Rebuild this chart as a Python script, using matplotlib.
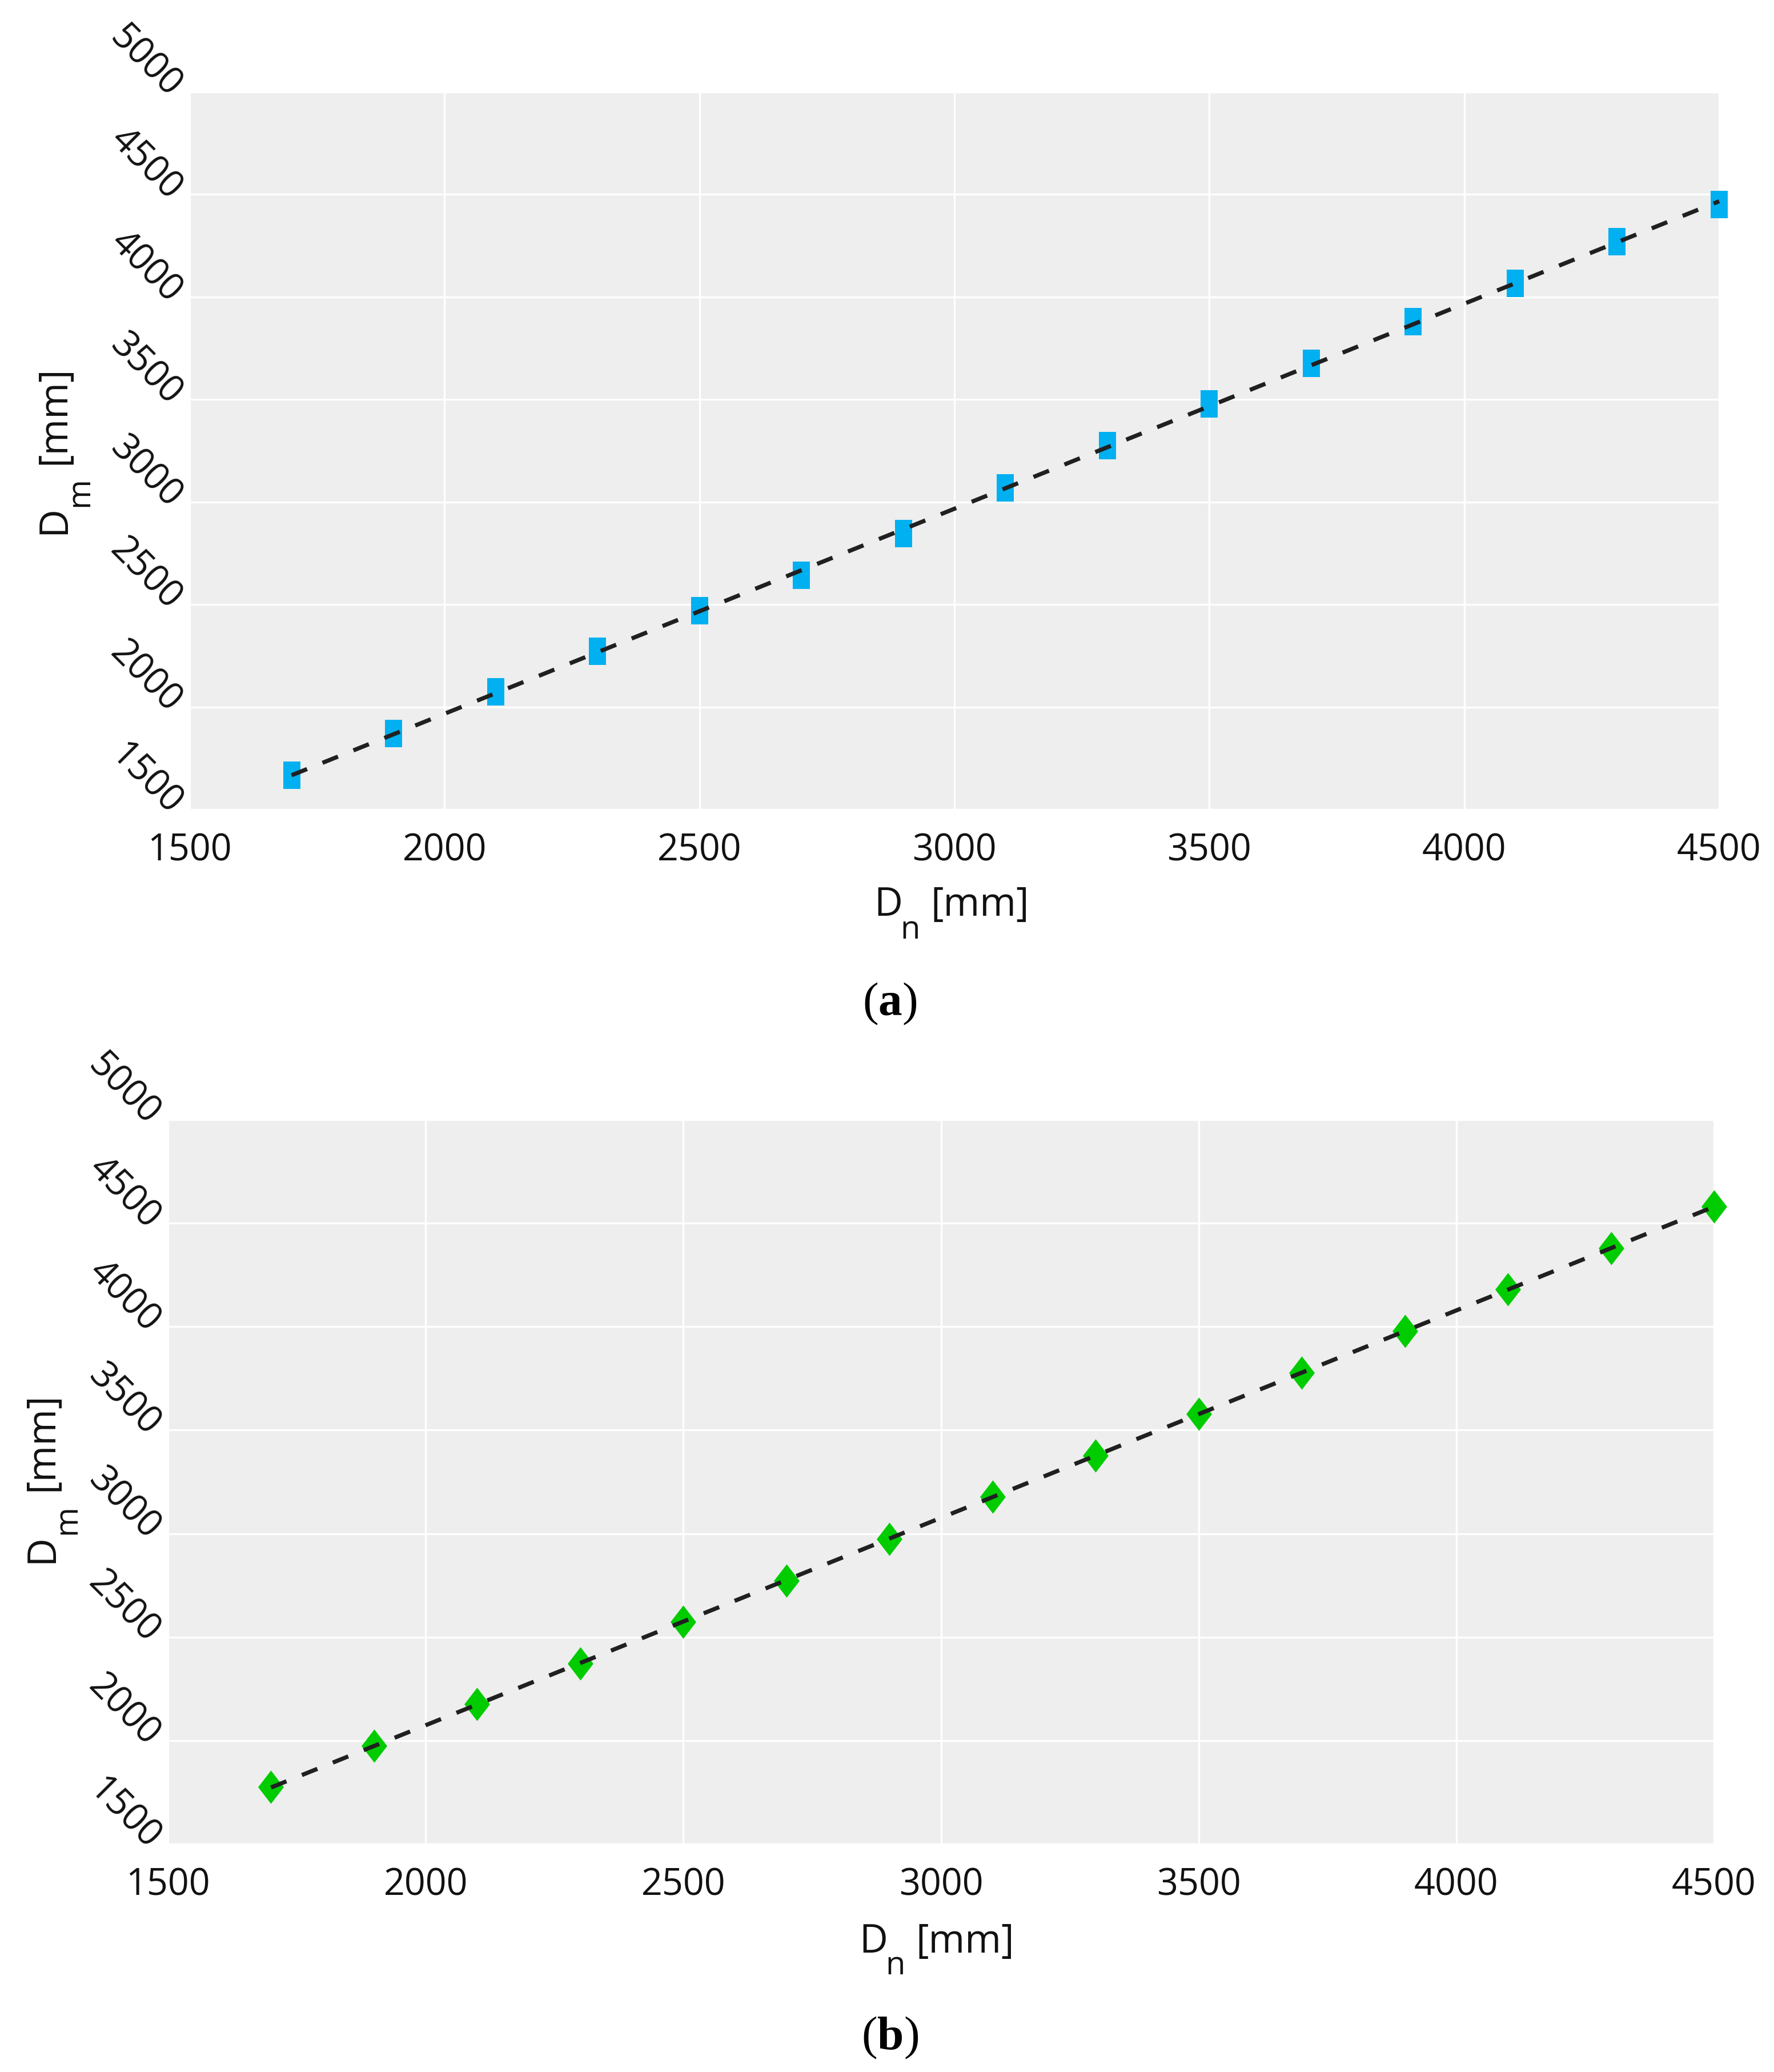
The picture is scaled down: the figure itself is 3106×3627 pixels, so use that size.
import numpy as np
import matplotlib
matplotlib.use("Agg")
import matplotlib.pyplot as plt

plt.rcParams['mathtext.fontset'] = 'custom'
plt.rcParams['mathtext.rm'] = 'Liberation Serif'
plt.rcParams['mathtext.bf'] = 'Liberation Serif:bold'

# ---------------- data ----------------
dn = [1700, 1900, 2100, 2300, 2500, 2700, 2900, 3100, 3300, 3500, 3700, 3900, 4100, 4300, 4500]
dm_a = [1666, 1870, 2075, 2272, 2469, 2642, 2847, 3068, 3275, 3479, 3675, 3880, 4067, 4270, 4450]
dm_b = [1775, 1976, 2176, 2373, 2573, 2773, 2974, 3177, 3376, 3578, 3778, 3979, 4179, 4380, 4580]
xticks = [1500, 2000, 2500, 3000, 3500, 4000, 4500]
yticks = [1500, 2000, 2500, 3000, 3500, 4000, 4500, 5000]

W, H = 3106, 3627
DPI = 300
fig = plt.figure(figsize=(W / DPI, H / DPI), dpi=DPI)
fig.patch.set_facecolor('white')

def fx(x):
    return x / W

def fy(y):
    return 1 - y / H

FONT = 'Open Sans'
TICK_FS = 15.5
LAB_FS = 16.5
SUB_FS = 13.5

rect_marker = [(-0.3125, -0.5), (0.3125, -0.5), (0.3125, 0.5), (-0.3125, 0.5), (-0.3125, -0.5)]
diam_marker = [(0, -0.5), (0.385, 0), (0, 0.5), (-0.385, 0), (0, -0.5)]

def style_axes(ax):
    ax.set_facecolor('#EEEEEE')
    for s in ax.spines.values():
        s.set_visible(False)
    ax.set_xlim(1500, 4500)
    ax.set_ylim(1500, 5000)
    ax.set_xticks(xticks)
    ax.set_yticks(yticks)
    ax.set_xticklabels([str(v) for v in xticks])
    ax.set_yticklabels([str(v) for v in yticks])
    ax.grid(True, color='white', linewidth=0.8)
    ax.set_axisbelow(True)
    ax.tick_params(axis='both', length=0, labelsize=TICK_FS, labelcolor='#111111')
    ax.tick_params(axis='x', pad=9.5)
    ax.tick_params(axis='y', pad=6.0)
    for lbl in ax.get_xticklabels():
        lbl.set_fontfamily(FONT)
    for lbl in ax.get_yticklabels():
        lbl.set_fontfamily(FONT)
        lbl.set_rotation(-45)
        lbl.set_rotation_mode('anchor')
        lbl.set_ha('right')
        lbl.set_va('center')

def plot_series(ax, y, marker, color, ms):
    ax.plot(dn, y, linestyle='none', marker=marker, markersize=ms,
            markerfacecolor=color, markeredgewidth=0, clip_on=False, zorder=3)
    k, b = np.polyfit(dn, y, 1)
    xe = np.array([dn[0], dn[-1]])
    ax.plot(xe, k * xe + b, color='#202020', linewidth=1.75,
            dashes=(4.0, 4.0), zorder=4, clip_on=False)

def xlabel_group(xD, base, sub_base, sub):
    kw = dict(ha='left', va='baseline', family=FONT, color='#111111')
    fig.text(fx(xD), fy(base), 'D', fontsize=LAB_FS, **kw)
    fig.text(fx(xD + 46), fy(sub_base), sub, fontsize=SUB_FS, **kw)
    fig.text(fx(xD + 99), fy(base), '[mm]', fontsize=LAB_FS, **kw)

def ylabel_group(xbase, yD, sub_x, sub_y, ymm, sub):
    kw = dict(ha='left', va='baseline', family=FONT, color='#111111',
              rotation=90, rotation_mode='anchor')
    fig.text(fx(xbase), fy(yD), 'D', fontsize=LAB_FS, **kw)
    fig.text(fx(sub_x), fy(sub_y), sub, fontsize=SUB_FS, **kw)
    fig.text(fx(xbase), fy(ymm), '[mm]', fontsize=LAB_FS, **kw)

# ---------------- panel (a) ----------------
ax1 = fig.add_axes([fx(332), fy(1417), (3010 - 332) / W, (1417 - 161) / H])
style_axes(ax1)
plot_series(ax1, dm_a, rect_marker, '#00B0F0', 11.5)
xlabel_group(1530, 1603, 1643, 'n')
ylabel_group(113, 935, 154, 887, 813, 'm')
fig.text(fx(1558), fy(1757), r'($\mathbf{a}$)', ha='center', va='center',
         family='Liberation Serif', fontsize=20, color='black')

# ---------------- panel (b) ----------------
ax2 = fig.add_axes([fx(294), fy(3228), (3001 - 294) / W, (3228 - 1960) / H])
style_axes(ax2)
plot_series(ax2, dm_b, diam_marker, '#00CC00', 14.0)
xlabel_group(1504, 3418, 3456, 'n')
ylabel_group(92, 2736, 132, 2686, 2610, 'm')
fig.text(fx(1558), fy(3567), r'($\mathbf{b}$)', ha='center', va='center',
         family='Liberation Serif', fontsize=20, color='black')

fig.savefig('out.png', dpi=DPI, facecolor='white')
